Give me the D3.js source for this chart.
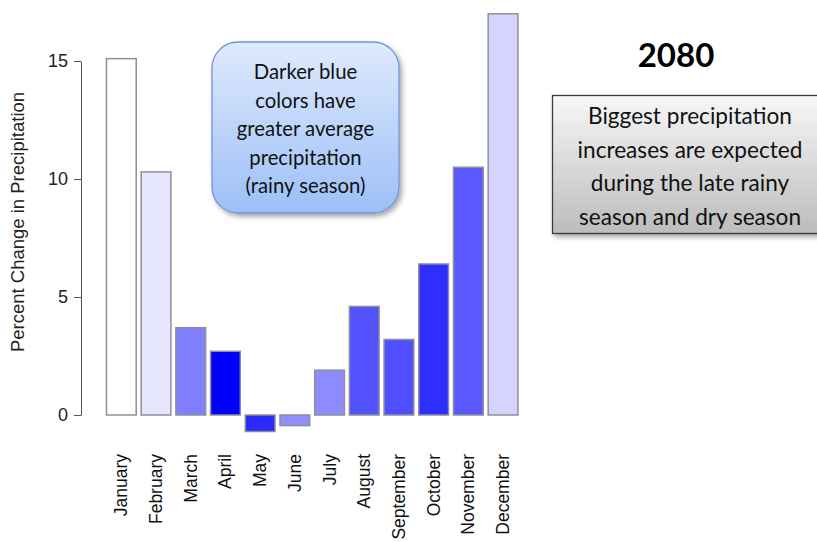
<!DOCTYPE html>
<html>
<head>
<meta charset="utf-8">
<script src="https://cdn.jsdelivr.net/npm/d3@7"></script>
<style>
  html, body { margin: 0; padding: 0; background: #ffffff; }
  svg { display: block; }
</style>
</head>
<body>
<svg id="chart" width="817" height="542"></svg>
<script>
// Monthly percent change in precipitation projected for 2080
const months = ["January", "February", "March", "April", "May", "June",
                "July", "August", "September", "October", "November", "December"];
const changes = [15.1, 10.3, 3.7, 2.7, -0.7, -0.45, 1.9, 4.6, 3.2, 6.4, 10.5, 17.0];
// Relative average precipitation per month (0 = driest, 1 = wettest), drives bar shade
const wetness = [0.0, 0.10, 0.50, 1.0, 0.83, 0.44, 0.45, 0.68, 0.69, 0.82, 0.65, 0.17];
const yTicks = [0, 5, 10, 15];

const titleText = "2080";
const legendLines = ["Darker blue", "colors have", "greater average", "precipitation", "(rainy season)"];
const noteLines = ["Biggest precipitation", "increases are expected", "during the late rainy", "season and dry season"];

const svg = d3.select("#chart");
const defs = svg.append("defs");

// scales
const x = d3.scaleBand()
  .domain(months)
  .range([104, 520.4])
  .paddingInner(5 / 35)
  .paddingOuter(2.5 / 35);

const y = d3.scaleLinear().domain([0, 15]).range([415, 61]);

const shade = d3.scaleLinear().domain([0, 1])
  .range(["#ffffff", "#0000ff"])
  .interpolate(d3.interpolateRgb);

// bars
svg.append("g")
  .selectAll("rect")
  .data(months.map((m, i) => ({ month: m, value: changes[i], w: wetness[i] })))
  .join("rect")
  .attr("x", d => x(d.month))
  .attr("width", x.bandwidth())
  .attr("y", d => y(Math.max(0, d.value)))
  .attr("height", d => Math.abs(y(d.value) - y(0)))
  .attr("fill", d => shade(d.w))
  .attr("stroke", "#8f8f99")
  .attr("stroke-width", 1.5);

// y axis
const yAxis = d3.axisLeft(y)
  .tickValues(yTicks)
  .tickSize(7)
  .tickSizeOuter(0)
  .tickPadding(6)
  .tickFormat(d3.format("d"));

const gy = svg.append("g")
  .attr("transform", "translate(81,0)")
  .call(yAxis);
gy.select(".domain").attr("stroke", "#555");
gy.selectAll(".tick line").attr("stroke", "#555");
gy.selectAll(".tick text")
  .attr("fill", "#222")
  .style("font-family", "'Liberation Sans', Arial, sans-serif")
  .style("font-size", "18px");

// y axis title
svg.append("text")
  .attr("transform", "translate(24,222) rotate(-90)")
  .attr("text-anchor", "middle")
  .attr("fill", "#222")
  .style("font-family", "'Liberation Sans', Arial, sans-serif")
  .style("font-size", "18.5px")
  .text("Percent Change in Precipitation");

// month labels (rotated)
svg.append("g")
  .selectAll("text")
  .data(months)
  .join("text")
  .attr("transform", d => `translate(${x(d) + x.bandwidth() / 2 + 6},454) rotate(-90)`)
  .attr("text-anchor", "end")
  .attr("fill", "#111")
  .style("font-family", "'Liberation Sans', Arial, sans-serif")
  .style("font-size", "17.5px")
  .text(d => d);

// shadow filter for callout boxes
const shadow = defs.append("filter").attr("id", "shadow")
  .attr("x", "-10%").attr("y", "-10%").attr("width", "130%").attr("height", "130%");
shadow.append("feDropShadow")
  .attr("dx", 2.5).attr("dy", 3).attr("stdDeviation", 2.5)
  .attr("flood-color", "#000").attr("flood-opacity", 0.35);

// blue legend callout
const blueGrad = defs.append("linearGradient").attr("id", "blueGrad")
  .attr("x1", 0).attr("y1", 0).attr("x2", 0).attr("y2", 1);
blueGrad.append("stop").attr("offset", "0%").attr("stop-color", "#dfeafd");
blueGrad.append("stop").attr("offset", "100%").attr("stop-color", "#9cbff7");

svg.append("rect")
  .attr("x", 212).attr("y", 42).attr("width", 187).attr("height", 171)
  .attr("rx", 26).attr("ry", 26)
  .attr("fill", "url(#blueGrad)")
  .attr("stroke", "#6f97d6").attr("stroke-width", 1.3)
  .attr("filter", "url(#shadow)");

svg.append("g")
  .selectAll("text")
  .data(legendLines)
  .join("text")
  .attr("x", 305.5)
  .attr("y", (d, i) => 72 + i * 28.5)
  .attr("dy", "0.35em")
  .attr("text-anchor", "middle")
  .attr("fill", "#111")
  .style("font-family", "Lato, 'Open Sans', sans-serif")
  .style("font-size", "20.3px")
  .text(d => d);

// title
svg.append("text")
  .attr("x", 676).attr("y", 67)
  .attr("text-anchor", "middle")
  .attr("fill", "#000")
  .style("font-family", "Lato, 'Open Sans', sans-serif")
  .style("font-weight", "bold")
  .style("font-size", "33px")
  .text(titleText);

// gray note box
const grayGrad = defs.append("linearGradient").attr("id", "grayGrad")
  .attr("x1", 0).attr("y1", 0).attr("x2", 0).attr("y2", 1);
grayGrad.append("stop").attr("offset", "0%").attr("stop-color", "#f7f7f7");
grayGrad.append("stop").attr("offset", "100%").attr("stop-color", "#bcbcbc");

svg.append("rect")
  .attr("x", 552.5).attr("y", 95.5).attr("width", 275).attr("height", 138)
  .attr("fill", "url(#grayGrad)")
  .attr("stroke", "#3a3a3a").attr("stroke-width", 1.3)
  .attr("filter", "url(#shadow)");

svg.append("g")
  .selectAll("text")
  .data(noteLines)
  .join("text")
  .attr("x", 690)
  .attr("y", (d, i) => 116 + i * 33.7)
  .attr("dy", "0.35em")
  .attr("text-anchor", "middle")
  .attr("fill", "#111")
  .style("font-family", "Lato, 'Open Sans', sans-serif")
  .style("font-size", "22.6px")
  .text(d => d);
</script>
</body>
</html>
